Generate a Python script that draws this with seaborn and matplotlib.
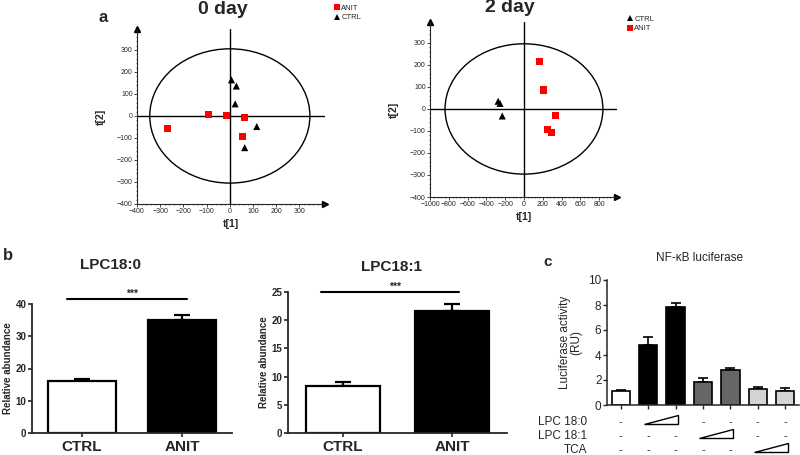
import numpy as np
import pandas as pd
import matplotlib
matplotlib.use("Agg")
import matplotlib.pyplot as plt
import matplotlib.transforms as mtransforms
from matplotlib.patches import Ellipse
from matplotlib.ticker import MultipleLocator
import seaborn as sns

# ---- panel a : PCA score plots ----
day0_anit_t1 = [-268, -91, -13, 65, 55]
day0_anit_t2 = [-56, 8, 0, -9, -94]
day0_ctrl_t1 = [7, 28, 23, 116, 64]
day0_ctrl_t2 = [164, 136, 55, -48, -144]

day2_ctrl_t1 = [-275, -255, -231]
day2_ctrl_t2 = [35, 25, -32]
day2_anit_t1 = [164, 206, 331, 246, 295]
day2_anit_t2 = [214, 86, -30, -94, -106]

# ---- panel b : relative abundance ----
groups = ["CTRL", "ANIT"]
lpc180_mean = [16.0, 35.0]
lpc180_sem = [0.7, 1.6]
lpc181_mean = [8.4, 21.6]
lpc181_sem = [0.6, 1.3]

# ---- panel c : NF-kB luciferase ----
luc_bars = ["1", "2", "3", "4", "5", "6", "7"]
luc_mean = [1.12, 4.83, 7.82, 1.86, 2.81, 1.30, 1.12]
luc_sem = [0.12, 0.60, 0.38, 0.29, 0.16, 0.13, 0.23]
luc_colors = ["white", "black", "black", "#666666", "#666666", "#d4d4d4", "#d4d4d4"]
treat_rows = ["LPC 18:0", "LPC 18:1", "TCA"]
treat_wedges = [(1, 2), (3, 4), (5, 6)]

sns.set_style("ticks")
plt.rcParams["font.family"] = ["Liberation Sans", "DejaVu Sans"]

W, H = 800, 455
fig = plt.figure(figsize=(8, 4.55), dpi=100)


def box(l, t, r, b):
    return [l / W, 1 - b / H, (r - l) / W, (b - t) / H]


def score_plot(ax, df, order, xlim, xmaj, ell_w, ell_h, leg_xy):
    sns.scatterplot(data=df, x="t1", y="t2", hue="group", style="group",
                    hue_order=order, style_order=order,
                    markers={"ANIT": "s", "CTRL": "^"},
                    palette={"ANIT": "#ff0000", "CTRL": "black"},
                    s=26, linewidth=0, ax=ax, zorder=3)
    ax.set_xlim(*xlim)
    ax.set_ylim(-400, 395)
    ax.axhline(0, color="black", lw=1)
    ax.axvline(0, color="black", lw=1)
    ax.add_patch(Ellipse((0, 0), ell_w, ell_h, fill=False, ec="black", lw=1))
    sns.despine(ax=ax)
    for s in ["left", "bottom"]:
        ax.spines[s].set_linewidth(0.8)
    ax.plot(1, 0, ">k", ms=4, transform=ax.transAxes, clip_on=False)
    ax.plot(0, 1, "^k", ms=4, transform=ax.transAxes, clip_on=False)
    ax.set_xticks(np.arange(xlim[0], xlim[1] - 50, xmaj))
    ax.set_yticks(np.arange(-400, 301, 100))
    ax.xaxis.set_minor_locator(MultipleLocator(xmaj / 5))
    ax.yaxis.set_minor_locator(MultipleLocator(20))
    ax.tick_params(which="major", labelsize=5, length=2, width=0.6, pad=1)
    ax.tick_params(which="minor", length=1, width=0.5)
    ax.set_xlabel("t[1]", fontsize=7.5, fontweight="bold", labelpad=3)
    ax.set_ylabel("t[2]", fontsize=7.5, fontweight="bold", labelpad=8)
    h, l = ax.get_legend_handles_labels()
    ax.legend(h, l, loc="center left", bbox_to_anchor=leg_xy,
              bbox_transform=fig.transFigure, frameon=False, fontsize=5.5,
              handletextpad=0.1, labelspacing=0.3, markerscale=0.9,
              borderpad=0, handlelength=1)


df0 = pd.DataFrame({"t1": day0_anit_t1 + day0_ctrl_t1,
                    "t2": day0_anit_t2 + day0_ctrl_t2,
                    "group": ["ANIT"] * len(day0_anit_t1) + ["CTRL"] * len(day0_ctrl_t1)})
df2 = pd.DataFrame({"t1": day2_ctrl_t1 + day2_anit_t1,
                    "t2": day2_ctrl_t2 + day2_anit_t2,
                    "group": ["CTRL"] * len(day2_ctrl_t1) + ["ANIT"] * len(day2_anit_t1)})

ax0 = fig.add_axes(box(137, 29, 325, 204))
score_plot(ax0, df0, ["ANIT", "CTRL"], (-400, 410), 100, 690, 610,
           (329 / W, 1 - 13 / H))
ax2 = fig.add_axes(box(430, 22, 617, 197))
score_plot(ax2, df2, ["CTRL", "ANIT"], (-1000, 990), 200, 1680, 592,
           (622 / W, 1 - 24 / H))

fig.text(223 / W, 1 - 10 / H, "0 day", ha="center", va="center", fontsize=14, fontweight="bold")
fig.text(510 / W, 1 - 8 / H, "2 day", ha="center", va="center", fontsize=14, fontweight="bold")
fig.text(103 / W, 1 - 17 / H, "a", ha="center", va="center", fontsize=12, fontweight="bold")


# ---- panel b ----
def abundance_plot(ax, means, sems, ymax, ystep, sig_x, sig_y):
    sns.barplot(x=groups, y=means, hue=groups, palette=["white", "black"],
                legend=False, edgecolor="black", linewidth=1.6, width=0.68,
                errorbar=None, ax=ax)
    ax.errorbar([0, 1], means, yerr=[[0, 0], sems], fmt="none", ecolor="black",
                elinewidth=1.6, capsize=6, capthick=1.6, zorder=0)
    ax.set_xlim(-0.5, 1.5)
    ax.set_ylim(0, ymax)
    ax.set_yticks(np.arange(0, ymax + 1, ystep))
    sns.despine(ax=ax)
    for s in ["left", "bottom"]:
        ax.spines[s].set_linewidth(1.3)
    ax.tick_params(axis="y", labelsize=7, length=3, width=1.2, pad=1)
    ax.tick_params(axis="x", labelsize=11, length=3, width=1.2, pad=2)
    for t in ax.get_xticklabels() + ax.get_yticklabels():
        t.set_fontweight("bold")
    ax.set_ylabel("Relative abundance", fontsize=7, fontweight="bold", labelpad=2)
    ax.plot(sig_x, [sig_y, sig_y], color="black", lw=1.5, clip_on=False)
    ax.text(np.mean(sig_x) + 0.05, sig_y, "***", ha="center", va="bottom",
            fontsize=7.5, fontweight="bold")


axb1 = fig.add_axes(box(32, 304, 232, 433))
abundance_plot(axb1, lpc180_mean, lpc180_sem, 40, 10, [-0.15, 1.05], 41.5)
axb2 = fig.add_axes(box(288, 292, 507, 433))
abundance_plot(axb2, lpc181_mean, lpc181_sem, 25, 5, [-0.2, 1.06], 25)

fig.text(110 / W, 1 - 265 / H, "LPC18:0", ha="center", va="center", fontsize=11, fontweight="bold")
fig.text(392 / W, 1 - 267 / H, "LPC18:1", ha="center", va="center", fontsize=11, fontweight="bold")
fig.text(8 / W, 1 - 256 / H, "b", ha="center", va="center", fontsize=12, fontweight="bold")

# ---- panel c ----
axc = fig.add_axes(box(607, 280, 799, 405))
sns.barplot(x=luc_bars, y=luc_mean, hue=luc_bars, palette=luc_colors, legend=False,
            edgecolor="black", linewidth=1.2, width=0.67, errorbar=None, ax=axc)
axc.errorbar(range(len(luc_mean)), luc_mean, yerr=[[0] * len(luc_sem), luc_sem],
             fmt="none", ecolor="black", elinewidth=1.2, capsize=3.5, capthick=1.2, zorder=0)
axc.set_xlim(-0.5, 6.5)
axc.set_ylim(0, 10)
axc.set_yticks(range(0, 11, 2))
axc.set_xticklabels([])
axc.set_xlabel("")
sns.despine(ax=axc)
for s in ["left", "bottom"]:
    axc.spines[s].set_linewidth(1.1)
axc.tick_params(axis="both", labelsize=8.5, length=3, width=1, pad=1)
axc.set_ylabel("Luciferase activity\n(RU)", fontsize=8.5, labelpad=4, linespacing=1.0)

trans = mtransforms.blended_transform_factory(axc.transData, axc.transAxes)
row_y = [-0.136, -0.248, -0.36]
for name, (i, j), y in zip(treat_rows, treat_wedges, row_y):
    axc.text(-0.104, y, name, transform=axc.transAxes, ha="right", va="center", fontsize=8.5)
    for k in range(len(luc_bars)):
        if k not in (i, j):
            axc.text(k, y, "-", transform=trans, ha="center", va="center", fontsize=8)
    axc.fill([i - 0.14, j + 0.09, j + 0.09], [y - 0.018, y - 0.018, y + 0.055],
             transform=trans, facecolor="white", edgecolor="black", lw=1, clip_on=False)

fig.text(700 / W, 1 - 258 / H, "NF-\u03baB luciferase", ha="center", va="center", fontsize=8.5)
fig.text(548 / W, 1 - 262 / H, "c", ha="center", va="center", fontsize=11, fontweight="bold")

fig.savefig("out.png", dpi=100)
